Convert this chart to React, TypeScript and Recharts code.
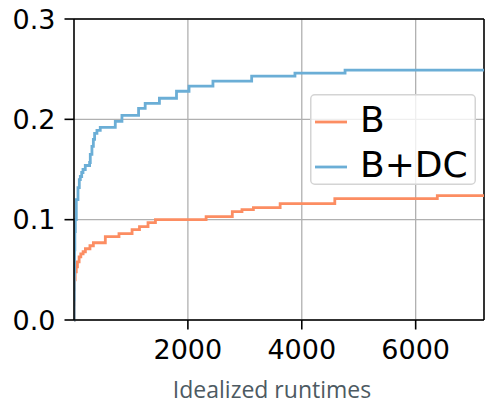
import { LineChart, Line, XAxis, YAxis, CartesianGrid, Legend, ReferenceLine } from "recharts";

// step points: value holds from x until the next x
const bX = [0, 3, 6, 10, 20, 40, 60, 90, 120, 160, 200, 280, 340, 550, 790, 1020, 1150, 1300, 1430, 2320, 2780, 2950, 3150, 3620, 4580, 6380, 7200];
const bY = [0, 0.015, 0.03, 0.04, 0.048, 0.053, 0.058, 0.063, 0.066, 0.068, 0.071, 0.074, 0.077, 0.083, 0.086, 0.09, 0.093, 0.097, 0.1, 0.103, 0.108, 0.11, 0.112, 0.116, 0.121, 0.124, 0.124];

const bdcX = [0, 3, 6, 10, 15, 23, 40, 70, 93, 111, 135, 158, 198, 274, 286, 315, 340, 362, 403, 461, 725, 842, 1134, 1250, 1500, 1800, 2020, 2440, 3120, 3880, 4760, 7200];
const bdcY = [0, 0.02, 0.045, 0.07, 0.088, 0.1, 0.12, 0.132, 0.14, 0.143, 0.147, 0.15, 0.154, 0.157, 0.165, 0.173, 0.18, 0.186, 0.189, 0.192, 0.198, 0.204, 0.211, 0.216, 0.221, 0.228, 0.233, 0.238, 0.243, 0.246, 0.249, 0.249];

const xTicks = [2000, 4000, 6000];
const yTicks = [0, 0.1, 0.2, 0.3];

const seriesNames = ["B", "B+DC"];
const colors = ["#fc8d62", "#6baed6"];

const toPoints = (xs: number[], ys: number[]) => xs.map((x, i) => ({ x, y: ys[i] }));
const bData = toPoints(bX, bY);
const bdcData = toPoints(bdcX, bdcY);

const tickFont = { fontFamily: "DejaVu Sans", fontSize: 27, fill: "#000" };

function LegendBox() {
  return (
    <svg width={166} height={91}>
      <rect x={0.75} y={0.75} width={164.5} height={89.5} rx={4} fill="rgba(255,255,255,0.8)" stroke="#d4d4d4" strokeWidth={1.5} />
      {seriesNames.map((name, i) => (
        <g key={name}>
          <line x1={5} x2={37} y1={28 + i * 45} y2={28 + i * 45} stroke={colors[i]} strokeWidth={2.8} />
          <text x={50} y={38 + i * 45} fontFamily="DejaVu Sans" fontSize={36} fill="#000">
            {name}
          </text>
        </g>
      ))}
    </svg>
  );
}

export default function App() {
  return (
    <div style={{ position: "absolute", left: 0, top: 0 }}>
      <LineChart width={486} height={406} margin={{ top: 19, right: 2, bottom: 0, left: 0 }}>
        <CartesianGrid stroke="#b0b0b0" strokeWidth={1.3} horizontalValues={yTicks} verticalValues={xTicks} />
        <XAxis
          type="number"
          dataKey="x"
          domain={[0, 7200]}
          ticks={xTicks}
          allowDataOverflow
          height={86}
          tick={tickFont}
          tickSize={9.5}
          tickMargin={10}
          axisLine={{ stroke: "#000", strokeWidth: 1.6 }}
          tickLine={{ stroke: "#000", strokeWidth: 1.6 }}
          label={{
            value: "Idealized runtimes",
            position: "insideBottom",
            offset: 8,
            dx: -7,
            style: { fontFamily: "Open Sans", fontSize: 23, fill: "#4d5a62" },
          }}
        />
        <YAxis
          type="number"
          dataKey="y"
          domain={[0, 0.3]}
          ticks={yTicks}
          width={74}
          tick={tickFont}
          tickFormatter={(v: number) => v.toFixed(1)}
          tickSize={9.5}
          tickMargin={9}
          axisLine={{ stroke: "#000", strokeWidth: 1.6 }}
          tickLine={{ stroke: "#000", strokeWidth: 1.6 }}
        />
        <ReferenceLine x={7200} stroke="#000" strokeWidth={1.6} />
        <ReferenceLine y={0.3} stroke="#000" strokeWidth={1.6} />
        <Line data={bData} dataKey="y" name="B" type="stepAfter" stroke={colors[0]} strokeWidth={2.8} dot={false} isAnimationActive={false} />
        <Line data={bdcData} dataKey="y" name="B+DC" type="stepAfter" stroke={colors[1]} strokeWidth={2.8} dot={false} isAnimationActive={false} />
        <Legend
          layout="horizontal"
          align="center"
          verticalAlign="middle"
          content={() => <LegendBox />}
          wrapperStyle={{ left: 310, top: 94, width: 166, height: 91 }}
        />
      </LineChart>
    </div>
  );
}
